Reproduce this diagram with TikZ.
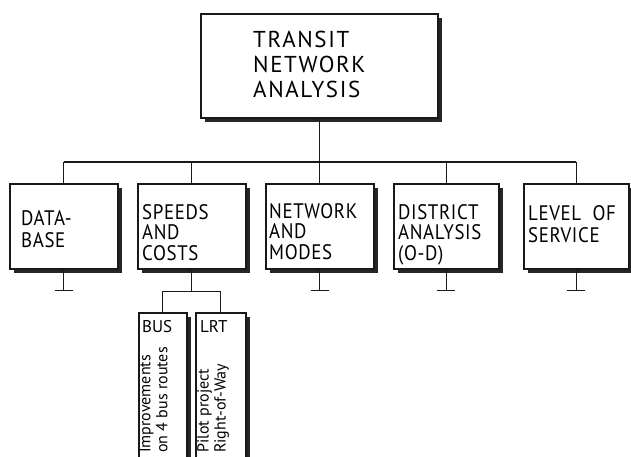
\documentclass[tikz,border=0pt]{standalone}
\usepackage{fontspec}
\newfontfamily\hand[FakeStretch=0.9,LetterSpace=3]{PT Sans}
\newfontfamily\handt[LetterSpace=7]{PT Sans}
\newfontfamily\handn{PT Sans}
\usetikzlibrary{shadows}
\begin{document}
\begin{tikzpicture}[x=1pt,y=-1pt,
  box/.style={draw=black!90, line width=1.5pt, fill=white, rectangle, inner sep=0pt, anchor=north west,
    general shadow={fill=black!85, shadow xshift=4pt, shadow yshift=-4pt}},
  conn/.style={draw=black!90, line width=1.3pt},
  titletxt/.style={inner sep=0pt, anchor=base west, align=left, font=\handt\fontsize{23}{25}\selectfont},
  rowtxt/.style={inner sep=0pt, anchor=base west, align=left, font=\hand\fontsize{21}{#1}\selectfont},
  subhead/.style={inner sep=0pt, anchor=base west, font=\handn\fontsize{17}{17}\selectfont},
  vtxt/.style={inner sep=0pt, anchor=north west, rotate=90, align=left, font=\handn\fontsize{16}{17}\selectfont}]
\clip (0,0) rectangle (631,456);
\fill[white] (0,0) rectangle (631,456);

% boxes
\node[box, minimum width=237pt, minimum height=104pt] (top) at (200,13) {};
\node[box, minimum width=108pt, minimum height=85pt] (db) at (9,183) {};
\node[box, minimum width=108pt, minimum height=85pt] (sp) at (137,183) {};
\node[box, minimum width=108pt, minimum height=85pt] (nw) at (265,183) {};
\node[box, minimum width=105pt, minimum height=85pt] (di) at (393,183) {};
\node[box, minimum width=105pt, minimum height=85pt] (ls) at (523,183) {};
\node[box, minimum width=48pt, minimum height=160pt] (bus) at (138,312) {};
\node[box, minimum width=50pt, minimum height=160pt] (lrt) at (195,312) {};

% texts (anchored at the baseline of the last line)
\node[titletxt] (ttop) at (253,97) {TRANSIT\\NETWORK\\ANALYSIS};
\node[rowtxt=22] (tdb) at (21,247) {DATA-\\BASE};
\node[rowtxt=20.5] (tsp) at (142,260) {SPEEDS\\AND\\COSTS};
\node[rowtxt=20.5] (tnw) at (269,259) {NETWORK\\AND\\MODES};
\node[rowtxt=20.5] (tdi) at (398,260) {DISTRICT\\ANALYSIS\\(O-D)};
\node[rowtxt=22] (tls) at (528,242) {LEVEL\ \ OF\\SERVICE};
\node[subhead] (tbus) at (142,332) {BUS};
\node[subhead] (tlrt) at (200,332) {LRT};
\node[vtxt] (vbus) at (139,453) {Improvements\\on 4 bus routes};
\node[vtxt] (vlrt) at (197,453) {Pilot project\\Right-of-Way};

% connectors
\coordinate (j) at (318,162);
\draw[conn] (top.south) -- (top.south |- j);
\draw[conn] (db.north |- j) -- (ls.north |- j);
\foreach \n in {db,sp,nw,di,ls}{
  \draw[conn] (\n.north |- j) -- (\n.north);
}
\foreach \n in {db,nw,di,ls}{
  \coordinate (\n t) at ([yshift=-21pt]\n.south);
  \draw[conn] (\n.south) -- (\n t);
  \draw[conn] ([xshift=-9pt]\n t) -- ([xshift=9pt]\n t);
}
\coordinate (spj) at ([yshift=-22pt]sp.south);
\draw[conn] (sp.south) -- (spj);
\draw[conn] (bus.north) |- (spj) -| (lrt.north);
\end{tikzpicture}
\end{document}
